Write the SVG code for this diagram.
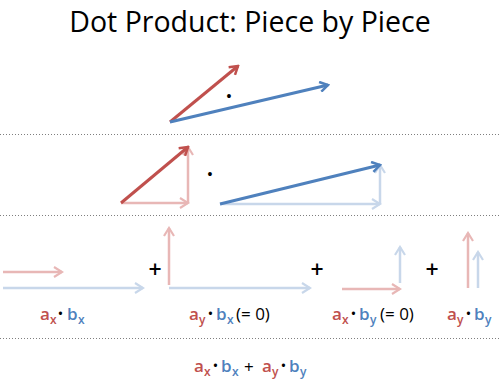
<svg xmlns="http://www.w3.org/2000/svg" width="500" height="384" viewBox="0 0 500 384">
<style>
.r{stroke:#C0504D;stroke-width:3;fill:none}
.b{stroke:#4F81BD;stroke-width:3;fill:none}
.rf{stroke:#E8B7B6;stroke-width:2.5;fill:none}
.bf{stroke:#C8D7EA;stroke-width:2.5;fill:none}
.sep{stroke:#7F7F7F;stroke-width:1;stroke-dasharray:1 2}
.lbl{font-family:"Open Sans","Liberation Sans",sans-serif;font-weight:600;font-size:17px}
.sub{font-size:12px}
.cr{fill:#C0504D}
.cb{fill:#4F81BD}
.blk{fill:#000;font-weight:400}
.bd{fill:#000;font-size:13px}
.plus{font-family:"Open Sans","Liberation Sans",sans-serif;font-size:23px;font-weight:600;fill:#000;text-anchor:middle}
.dot{font-family:"Liberation Sans",sans-serif;font-size:14px;fill:#000;text-anchor:middle}
</style>
<defs>
<marker id="mr" markerUnits="userSpaceOnUse" viewBox="0 0 12 12" refX="10" refY="6" markerWidth="12" markerHeight="12" orient="auto"><path d="M2,1 L10,6 L2,11" stroke="#C0504D" stroke-width="2.5" fill="none"/></marker>
<marker id="mb" markerUnits="userSpaceOnUse" viewBox="0 0 12 12" refX="10" refY="6" markerWidth="12" markerHeight="12" orient="auto"><path d="M2,1 L10,6 L2,11" stroke="#4F81BD" stroke-width="2.5" fill="none"/></marker>
<marker id="mrf" markerUnits="userSpaceOnUse" viewBox="0 0 12 12" refX="10" refY="6" markerWidth="12" markerHeight="12" orient="auto"><path d="M2,1 L10,6 L2,11" stroke="#E8B7B6" stroke-width="2.2" fill="none"/></marker>
<marker id="mbf" markerUnits="userSpaceOnUse" viewBox="0 0 12 12" refX="10" refY="6" markerWidth="12" markerHeight="12" orient="auto"><path d="M2,1 L10,6 L2,11" stroke="#C8D7EA" stroke-width="2.2" fill="none"/></marker>
</defs>
<rect width="500" height="384" fill="#fff"/>
<text id="title" x="250" y="32" font-family="Open Sans,Liberation Sans,sans-serif" font-size="28.5" text-anchor="middle" fill="#000">Dot Product: Piece by Piece</text>
<g id="separators">
<line class="sep" x1="0" y1="134.5" x2="500" y2="134.5"/>
<line class="sep" x1="0" y1="215.5" x2="500" y2="215.5"/>
<line class="sep" x1="0" y1="338.5" x2="500" y2="338.5"/>
</g>
<g id="connectors">
<line class="r" x1="170" y1="122" x2="238" y2="66" marker-end="url(#mr)"/>
<line class="b" x1="170" y1="122" x2="328" y2="85" marker-end="url(#mb)"/>
<line class="rf" x1="121" y1="203" x2="188" y2="203" marker-end="url(#mrf)"/>
<line class="rf" x1="188" y1="203" x2="188" y2="147" marker-end="url(#mrf)"/>
<line class="r" x1="121" y1="203" x2="188" y2="147" marker-end="url(#mr)"/>
<line class="bf" x1="220" y1="204" x2="380" y2="204" marker-end="url(#mbf)"/>
<line class="bf" x1="380" y1="204" x2="380" y2="165" marker-end="url(#mbf)"/>
<line class="b" x1="220" y1="204" x2="380" y2="165" marker-end="url(#mb)"/>
<line class="rf" x1="3" y1="272" x2="62" y2="272" marker-end="url(#mrf)"/>
<line class="bf" x1="3" y1="288" x2="143" y2="288" marker-end="url(#mbf)"/>
<line class="rf" x1="169" y1="285" x2="169" y2="228" marker-end="url(#mrf)"/>
<line class="bf" x1="169" y1="288" x2="310" y2="288" marker-end="url(#mbf)"/>
<line class="rf" x1="342" y1="289" x2="400" y2="289" marker-end="url(#mrf)"/>
<line class="bf" x1="400" y1="283" x2="400" y2="247" marker-end="url(#mbf)"/>
<line class="rf" x1="468" y1="288" x2="468" y2="233" marker-end="url(#mrf)"/>
<line class="bf" x1="478" y1="288" x2="478" y2="252" marker-end="url(#mbf)"/>
</g>
<g id="dots">
<text class="dot" x="229" y="101">•</text>
<text class="dot" x="210" y="179">•</text>
</g>
<g id="plus">
<text class="plus" x="155" y="278">+</text>
<text class="plus" x="317" y="278">+</text>
<text class="plus" x="432" y="278">+</text>
</g>
<g id="label1">
<text class="lbl" y="320"><tspan class="cr" x="40">a</tspan><tspan class="cr sub" x="50" y="324">x</tspan><tspan class="bd" x="58" y="318">•</tspan><tspan class="cb" x="67" y="320">b</tspan><tspan class="cb sub" x="78" y="324">x</tspan></text>
</g>
<g id="label2">
<text class="lbl" y="320"><tspan class="cr" x="189">a</tspan><tspan class="cr sub" x="199" y="324">y</tspan><tspan class="bd" x="208" y="318">•</tspan><tspan class="cb" x="216" y="320">b</tspan><tspan class="cb sub" x="227" y="324">x</tspan><tspan class="blk" x="236" y="320">(= 0)</tspan></text>
</g>
<g id="label3">
<text class="lbl" y="320"><tspan class="cr" x="332">a</tspan><tspan class="cr sub" x="342" y="324">x</tspan><tspan class="bd" x="351" y="318">•</tspan><tspan class="cb" x="359" y="320">b</tspan><tspan class="cb sub" x="370" y="324">y</tspan><tspan class="blk" x="380" y="320">(= 0)</tspan></text>
</g>
<g id="label4">
<text class="lbl" y="320"><tspan class="cr" x="447">a</tspan><tspan class="cr sub" x="457" y="324">y</tspan><tspan class="bd" x="466" y="318">•</tspan><tspan class="cb" x="474" y="320">b</tspan><tspan class="cb sub" x="485" y="324">y</tspan></text>
</g>
<g id="sum">
<text class="lbl" y="372"><tspan class="cr" x="194">a</tspan><tspan class="cr sub" x="204" y="376">x</tspan><tspan class="bd" x="213" y="370">•</tspan><tspan class="cb" x="221" y="372">b</tspan><tspan class="cb sub" x="232" y="376">x</tspan><tspan class="blk" x="244" y="373" font-weight="700">+</tspan><tspan class="cr" x="262" y="372">a</tspan><tspan class="cr sub" x="272" y="376">y</tspan><tspan class="bd" x="281" y="370">•</tspan><tspan class="cb" x="289" y="372">b</tspan><tspan class="cb sub" x="300" y="376">y</tspan></text>
</g>
</svg>
